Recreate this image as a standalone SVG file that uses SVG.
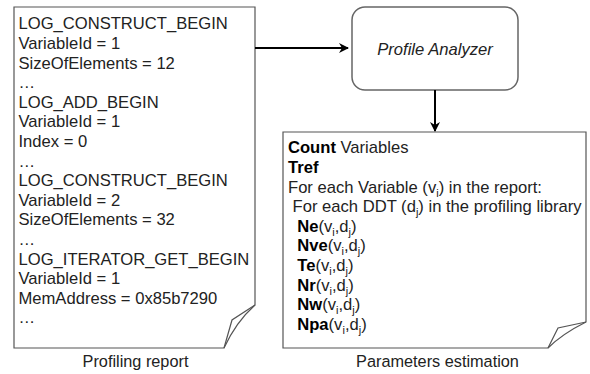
<svg xmlns="http://www.w3.org/2000/svg" width="590" height="374" viewBox="0 0 590 374">
<defs>
<marker id="ah" markerWidth="10" markerHeight="10" refX="9" refY="5" orient="auto" markerUnits="userSpaceOnUse">
<path d="M0,0 L10,5 L0,10 L3,5 Z" fill="#000"/>
</marker>
<style>
text{font-family:"Liberation Sans",Arial,sans-serif;font-size:16.6px;fill:#222}
.lbl{font-size:16.3px}
.doc{fill:#fff;stroke:#555;stroke-width:1.2}
.fold{fill:none;stroke:#555;stroke-width:1.2}
.b{font-weight:bold;fill:#000}
.s{font-size:11px}
.conn{stroke:#000;stroke-width:2;fill:none}
</style>
</defs>
<rect width="590" height="374" fill="#fff"/>
<g id="profiling-report">
<path class="doc" d="M14,7 H255 V305 Q236,322 224,348 H14 Z"/>
<path class="fold" d="M255,305 L232,320 Q228,334 224,348"/>
<text x="18.5" y="29.3">LOG_CONSTRUCT_BEGIN</text>
<text x="18.5" y="48.9">VariableId = 1</text>
<text x="18.5" y="68.5">SizeOfElements = 12</text>
<text x="18.5" y="88.1">…</text>
<text x="18.5" y="107.7">LOG_ADD_BEGIN</text>
<text x="18.5" y="127.3">VariableId = 1</text>
<text x="18.5" y="146.9">Index = 0</text>
<text x="18.5" y="166.5">…</text>
<text x="18.5" y="186.1">LOG_CONSTRUCT_BEGIN</text>
<text x="18.5" y="205.7">VariableId = 2</text>
<text x="18.5" y="225.3">SizeOfElements = 32</text>
<text x="18.5" y="244.9">…</text>
<text x="18.5" y="264.5">LOG_ITERATOR_GET_BEGIN</text>
<text x="18.5" y="284.1">VariableId = 1</text>
<text x="18.5" y="303.7">MemAddress = 0x85b7290</text>
<text x="18.5" y="323.3">…</text>
<text class="lbl" x="135.5" y="367" text-anchor="middle">Profiling report</text>
</g>
<g id="profile-analyzer">
<rect x="352" y="7" width="166" height="83" rx="13" ry="13" fill="#fff" stroke="#666" stroke-width="1.5"/>
<text x="435" y="55" text-anchor="middle" font-style="italic">Profile Analyzer</text>
</g>
<g id="parameters-estimation">
<path class="doc" d="M283,132 H586 V322 Q562,334 548,348 H283 Z"/>
<path class="fold" d="M586,322 L558,328 Q553,338 548,348"/>
<text x="288" y="153"><tspan class="b">Count</tspan> Variables</text>
<text x="288" y="172.5" class="b">Tref</text>
<text x="288" y="192.5">For each Variable (v<tspan class="s" dy="4">i</tspan><tspan dy="-4">) in the report:</tspan></text>
<text x="288" y="212" xml:space="preserve"> For each DDT (d<tspan class="s" dy="4">j</tspan><tspan dy="-4">) in the profiling library</tspan></text>
<text x="288" y="231.5" xml:space="preserve">  <tspan class="b">Ne</tspan>(v<tspan class="s" dy="4">i</tspan><tspan dy="-4">,d</tspan><tspan class="s" dy="4">j</tspan><tspan dy="-4">)</tspan></text>
<text x="288" y="251.2" xml:space="preserve">  <tspan class="b">Nve</tspan>(v<tspan class="s" dy="4">i</tspan><tspan dy="-4">,d</tspan><tspan class="s" dy="4">j</tspan><tspan dy="-4">)</tspan></text>
<text x="288" y="270.9" xml:space="preserve">  <tspan class="b">Te</tspan>(v<tspan class="s" dy="4">i</tspan><tspan dy="-4">,d</tspan><tspan class="s" dy="4">j</tspan><tspan dy="-4">)</tspan></text>
<text x="288" y="290.6" xml:space="preserve">  <tspan class="b">Nr</tspan>(v<tspan class="s" dy="4">i</tspan><tspan dy="-4">,d</tspan><tspan class="s" dy="4">j</tspan><tspan dy="-4">)</tspan></text>
<text x="288" y="310.3" xml:space="preserve">  <tspan class="b">Nw</tspan>(v<tspan class="s" dy="4">i</tspan><tspan dy="-4">,d</tspan><tspan class="s" dy="4">j</tspan><tspan dy="-4">)</tspan></text>
<text x="288" y="330" xml:space="preserve">  <tspan class="b">Npa</tspan>(v<tspan class="s" dy="4">i</tspan><tspan dy="-4">,d</tspan><tspan class="s" dy="4">j</tspan><tspan dy="-4">)</tspan></text>
<text class="lbl" x="437.5" y="367" text-anchor="middle">Parameters estimation</text>
</g>
<g id="connectors">
<line class="conn" x1="255" y1="48" x2="348" y2="48" marker-end="url(#ah)"/>
<line class="conn" x1="435" y1="90" x2="435" y2="131" marker-end="url(#ah)"/>
</g>
</svg>
